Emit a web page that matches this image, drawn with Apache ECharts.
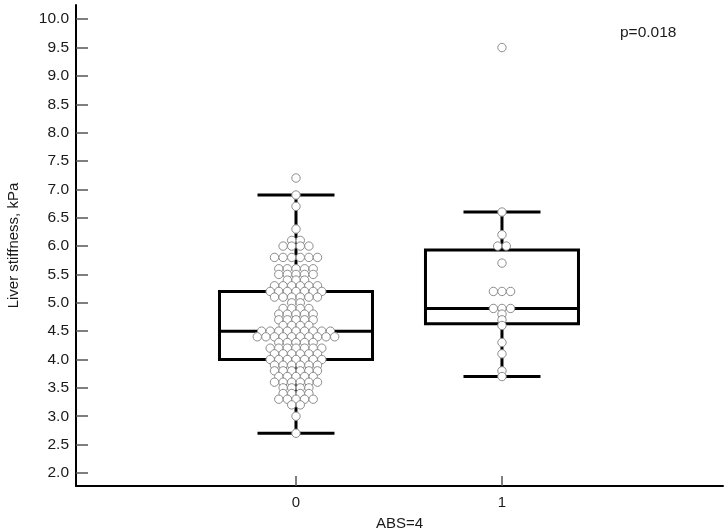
<!DOCTYPE html>
<html>
<head>
<meta charset="utf-8">
<script src="https://cdn.jsdelivr.net/npm/echarts@6/dist/echarts.min.js"></script>
<style>html,body{margin:0;padding:0;background:#fff;}#c{width:728px;height:532px;}</style>
</head>
<body>
<div id="c"></div>
<script>
// ---- data ----
const categories = [0, 1];
const categoryLabels = ['0', '1'];
const yTickValues = [2.0, 2.5, 3.0, 3.5, 4.0, 4.5, 5.0, 5.5, 6.0, 6.5, 7.0, 7.5, 8.0, 8.5, 9.0, 9.5, 10.0];

const group0Values = [
  7.2, 6.9, 6.7, 6.3,
  6.1, 6.1,
  6.0, 6.0, 6.0, 6.0,
  5.8, 5.8, 5.8, 5.8, 5.8, 5.8,
  5.6, 5.6, 5.6, 5.6, 5.6,
  5.5, 5.5, 5.5, 5.5, 5.5,
  5.4, 5.4, 5.4,
  5.3, 5.3, 5.3, 5.3, 5.3, 5.3,
  5.2, 5.2, 5.2, 5.2, 5.2, 5.2, 5.2,
  5.1, 5.1, 5.1, 5.1, 5.1, 5.1,
  5.0, 5.0,
  4.9, 4.9, 4.9, 4.9,
  4.8, 4.8, 4.8, 4.8, 4.8,
  4.7, 4.7, 4.7, 4.7, 4.7,
  4.6, 4.6, 4.6, 4.6,
  4.5, 4.5, 4.5, 4.5, 4.5, 4.5, 4.5, 4.5, 4.5,
  4.4, 4.4, 4.4, 4.4, 4.4, 4.4, 4.4, 4.4, 4.4, 4.4,
  4.3, 4.3, 4.3, 4.3, 4.3,
  4.2, 4.2, 4.2, 4.2, 4.2, 4.2, 4.2,
  4.1, 4.1, 4.1, 4.1, 4.1, 4.1,
  4.0, 4.0, 4.0, 4.0, 4.0, 4.0, 4.0,
  3.9, 3.9, 3.9, 3.9, 3.9, 3.9,
  3.8, 3.8, 3.8, 3.8, 3.8, 3.8,
  3.7, 3.7, 3.7, 3.7, 3.7,
  3.6, 3.6, 3.6, 3.6, 3.6, 3.6,
  3.5, 3.5, 3.5, 3.5,
  3.4, 3.4, 3.4, 3.4,
  3.3, 3.3, 3.3, 3.3, 3.3,
  3.2, 3.2,
  3.0, 2.7
];
const group1Values = [
  9.5, 6.6, 6.2, 6.0, 6.0, 5.7,
  5.2, 5.2, 5.2,
  4.9, 4.9, 4.9,
  4.8, 4.7, 4.6, 4.3, 4.1, 3.8, 3.7
];

const boxLow = [2.7, 3.7];
const boxQ1 = [4.0, 4.63];
const boxMedian = [4.5, 4.9];
const boxQ3 = [5.2, 5.93];
const boxHigh = [6.9, 6.6];

const yAxisName = 'Liver stiffness, kPa';
const xAxisName = 'ABS=4';
const pValueText = 'p=0.018';

// ---- build series data ----
const boxData = categories.map((c, i) => [c, boxLow[i], boxQ1[i], boxMedian[i], boxQ3[i], boxHigh[i]]);

function swarm(cat, values) {
  const rows = {};
  values.forEach(v => { const k = v.toFixed(1); (rows[k] = rows[k] || []).push(v); });
  const out = [];
  Object.keys(rows).forEach(k => {
    const n = rows[k].length;
    rows[k].forEach((v, i) => out.push([cat, v, i - (n - 1) / 2]));
  });
  return out;
}
const dotData = swarm(categories[0], group0Values).concat(swarm(categories[1], group1Values));

const FONT = '"Liberation Sans", Arial, sans-serif';
const TXT = '#1a1a1a';
const chart = echarts.init(document.getElementById('c'));
chart.setOption({
  animation: false,
  backgroundColor: '#fff',
  grid: { left: 76, right: 5, top: 5, bottom: 46, outerBoundsMode: 'none', containLabel: false },
  xAxis: {
    type: 'value',
    min: -1.068, max: 2.073,
    name: xAxisName, nameLocation: 'middle', nameGap: 30,
    nameTextStyle: { fontFamily: FONT, fontSize: 15, color: TXT },
    axisLine: { show: true, onZero: false, lineStyle: { color: '#000', width: 2 } },
    axisTick: { show: true, inside: true, length: 10, customValues: categories, lineStyle: { color: '#555', width: 1.5 } },
    axisLabel: { customValues: categories, formatter: v => categoryLabels[categories.indexOf(v)], fontFamily: FONT, fontSize: 15, color: TXT, margin: 9 },
    splitLine: { show: false }
  },
  yAxis: {
    type: 'value',
    min: 1.77, max: 10.25,
    name: yAxisName, nameLocation: 'middle', nameGap: 55,
    nameTextStyle: { fontFamily: FONT, fontSize: 15, color: TXT },
    axisLine: { show: true, onZero: false, lineStyle: { color: '#000', width: 2 } },
    axisTick: { show: true, inside: true, length: 12, customValues: yTickValues, lineStyle: { color: '#555', width: 1.5 } },
    axisLabel: { customValues: yTickValues, formatter: v => v.toFixed(1), fontFamily: FONT, fontSize: 15.5, color: TXT, margin: 7 },
    splitLine: { show: false }
  },
  graphic: [{
    type: 'text', left: 620, top: 25,
    style: { text: pValueText, font: '15.5px ' + FONT, fill: TXT }
  }],
  series: [
    {
      type: 'custom', z: 2,
      data: boxData,
      renderItem: function (params, api) {
        const c = api.value(0);
        const pl = api.coord([c, api.value(1)]);
        const p1 = api.coord([c, api.value(2)]);
        const pm = api.coord([c, api.value(3)]);
        const p3 = api.coord([c, api.value(4)]);
        const ph = api.coord([c, api.value(5)]);
        const cx = pl[0];
        const bw = 153, cw = 77;
        const st = { stroke: '#000', lineWidth: 3, fill: null };
        return {
          type: 'group',
          children: [
            { type: 'line', shape: { x1: cx, y1: ph[1], x2: cx, y2: p3[1] }, style: st },
            { type: 'line', shape: { x1: cx, y1: p1[1], x2: cx, y2: pl[1] }, style: st },
            { type: 'line', shape: { x1: cx - cw / 2, y1: ph[1], x2: cx + cw / 2, y2: ph[1] }, style: st },
            { type: 'line', shape: { x1: cx - cw / 2, y1: pl[1], x2: cx + cw / 2, y2: pl[1] }, style: st },
            { type: 'rect', shape: { x: cx - bw / 2, y: p3[1], width: bw, height: p1[1] - p3[1] }, style: { stroke: '#000', lineWidth: 3, fill: 'none' } },
            { type: 'line', shape: { x1: cx - bw / 2, y1: pm[1], x2: cx + bw / 2, y2: pm[1] }, style: st }
          ]
        };
      }
    },
    {
      type: 'custom', z: 3,
      data: dotData,
      renderItem: function (params, api) {
        const p = api.coord([api.value(0), api.value(1)]);
        return {
          type: 'circle',
          shape: { cx: p[0] + api.value(2) * 8.6, cy: p[1], r: 4.2 },
          style: { fill: '#fff', stroke: '#8c8c8c', lineWidth: 1 }
        };
      }
    }
  ]
});
</script>
</body>
</html>
